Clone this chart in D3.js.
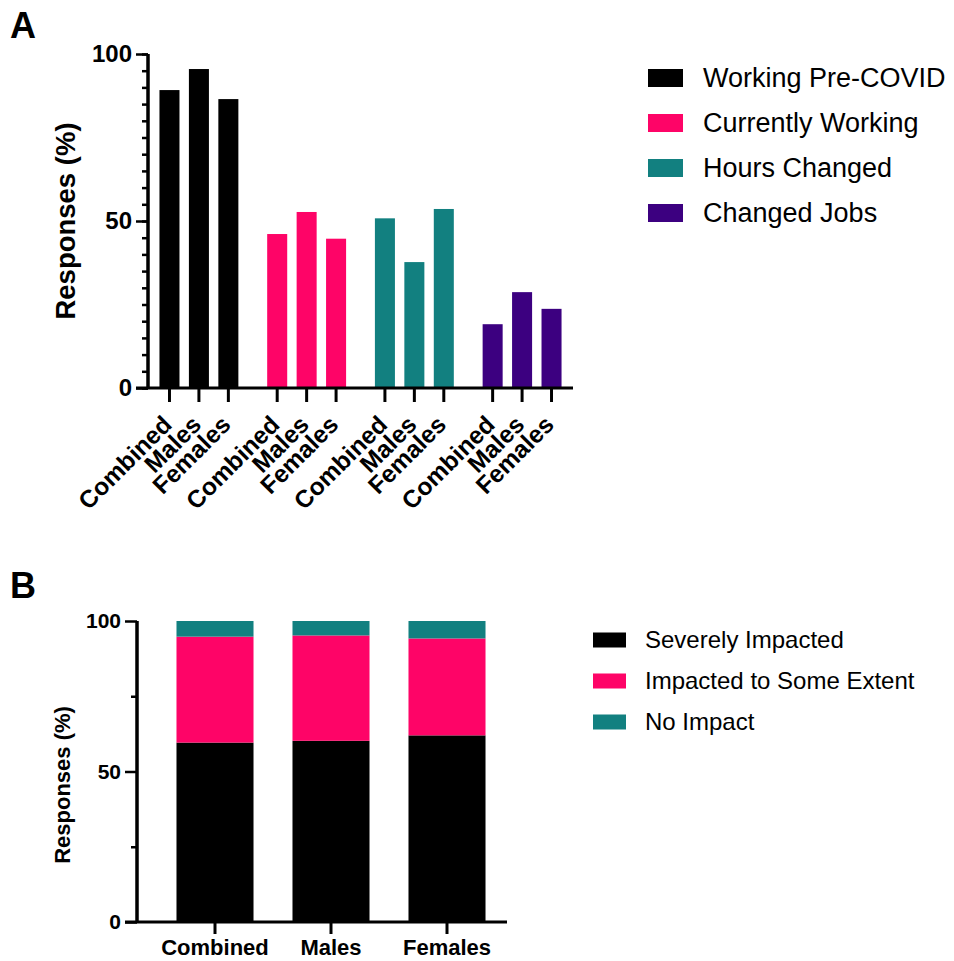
<!DOCTYPE html>
<html><head><meta charset="utf-8">
<script src="https://cdn.jsdelivr.net/npm/d3@7"></script>
<style>body{margin:0;background:#fff;}svg{display:block;font-family:"Liberation Sans",Arial,sans-serif;}</style>
</head><body>
<script>
// ---- Panel A data ----
const groupsA = ["Working Pre-COVID","Currently Working","Hours Changed","Changed Jobs"];
const subgroups = ["Combined","Males","Females"];
const valuesA = [
  [89.2, 95.5, 86.5],
  [46.1, 52.7, 44.7],
  [50.8, 37.7, 53.6],
  [19.1, 28.7, 23.7]
];
const colorsA = ["#000000","#fe0467","#128080","#3c0080"];
const ticksA = [0,50,100];
// ---- Panel B data ----
const categoriesB = ["Combined","Males","Females"];
const seriesB = ["Severely Impacted","Impacted to Some Extent","No Impact"];
const severe = [59.6, 60.2, 62.0];
const someExtent = [35.2, 35.0, 32.2];
const noImpact = [5.2, 4.8, 5.8];
const colorsB = ["#000000","#fe0467","#128080"];
const ticksB = [0,50,100];

const W=954,H=961;
const svg=d3.select("body").append("svg").attr("width",W).attr("height",H);

// Panel letters
svg.append("text").attr("x",10).attr("y",38).attr("font-size",36).attr("font-weight","bold").text("A");
svg.append("text").attr("x",10).attr("y",598).attr("font-size",36).attr("font-weight","bold").text("B");

// ===== Panel A =====
const gA=svg.append("g");
const yA=d3.scaleLinear().domain([0,100]).range([388,54]);
const xA=d3.scaleBand().domain(groupsA).range([154.75,566.25]).paddingInner(0.18).paddingOuter(0);
const xAi=d3.scaleBand().domain(subgroups).range([0,xA.bandwidth()]).paddingInner(0.32).paddingOuter(0.16);
const axisX0=148;

groupsA.forEach((g,gi)=>{
  gA.selectAll(null).data(valuesA[gi]).enter().append("rect")
    .attr("x",(d,i)=>xA(g)+xAi(subgroups[i]))
    .attr("width",xAi.bandwidth())
    .attr("y",d=>yA(d))
    .attr("height",d=>yA(0)-yA(d))
    .attr("fill",colorsA[gi]);
});

// y axis minor ticks
const yAxisA=gA.append("g").attr("transform",`translate(${axisX0},0)`);
yAxisA.call(d3.axisLeft(yA).tickValues(d3.range(0,101,5)).tickSize(6).tickFormat(""));
yAxisA.append("g").call(d3.axisLeft(yA).tickValues(ticksA).tickSize(12).tickPadding(4).tickFormat(d3.format("d")));
yAxisA.selectAll("path.domain").attr("stroke-width",3);
yAxisA.selectAll(".tick line").attr("stroke-width",2.5).attr("stroke","#000");
yAxisA.selectAll(".tick text").attr("font-size",24).attr("font-weight","bold").attr("fill","#000").attr("font-family","Liberation Sans, Arial, sans-serif");
yAxisA.selectAll("path.domain").attr("d",`M0,${yA(0)}V${yA(100)}`);

// x axis line
gA.append("line").attr("x1",axisX0-12).attr("x2",573).attr("y1",yA(0)).attr("y2",yA(0)).attr("stroke","#000").attr("stroke-width",3);
// x ticks and labels
groupsA.forEach((g,gi)=>{
  subgroups.forEach((s,i)=>{
    const cx=xA(g)+xAi(s)+xAi.bandwidth()/2;
    gA.append("line").attr("x1",cx).attr("x2",cx).attr("y1",yA(0)).attr("y2",yA(0)+14).attr("stroke","#000").attr("stroke-width",3);
    gA.append("text").attr("transform",`translate(${cx},${yA(0)+16}) rotate(-45)`)
      .attr("text-anchor","end").attr("dx",-13).attr("dy","0.75em").attr("font-size",24.5).attr("font-weight","bold").text(s);
  });
});
// y title
gA.append("text").attr("transform",`translate(75,221) rotate(-90)`).attr("text-anchor","middle")
  .attr("font-size",27.5).attr("font-weight","bold").text("Responses (%)");

// legend A
const legA=svg.append("g");
groupsA.forEach((g,i)=>{
  const cy=78+i*45;
  legA.append("rect").attr("x",648).attr("y",cy-9).attr("width",35).attr("height",18).attr("fill",colorsA[i]);
  legA.append("text").attr("x",703).attr("y",cy).attr("dy","0.35em").attr("font-size",27).text(g);
});

// ===== Panel B =====
const gB=svg.append("g");
const yB=d3.scaleLinear().domain([0,100]).range([922,621]);
const xB=d3.scaleBand().domain(categoriesB).range([157,505]).paddingInner(0.336).paddingOuter(0.168);
const stackData=categoriesB.map((c,i)=>({cat:c,"Severely Impacted":severe[i],"Impacted to Some Extent":someExtent[i],"No Impact":noImpact[i]}));
const stacked=d3.stack().keys(seriesB)(stackData);
stacked.forEach((layer,li)=>{
  gB.selectAll(null).data(layer).enter().append("rect")
    .attr("x",d=>xB(d.data.cat)).attr("width",xB.bandwidth())
    .attr("y",d=>yB(d[1])).attr("height",d=>yB(d[0])-yB(d[1]))
    .attr("fill",colorsB[li]);
});
const bX0=137;
const yAxisB=gB.append("g").attr("transform",`translate(${bX0},0)`);
yAxisB.call(d3.axisLeft(yB).tickValues([25,75]).tickSize(6).tickFormat(""));
yAxisB.append("g").call(d3.axisLeft(yB).tickValues(ticksB).tickSize(12).tickPadding(4).tickFormat(d3.format("d")));
yAxisB.selectAll("path.domain").attr("stroke-width",3).attr("d",`M0,${yB(0)}V${yB(100)}`);
yAxisB.selectAll(".tick line").attr("stroke-width",2.5).attr("stroke","#000");
yAxisB.selectAll(".tick text").attr("font-size",21).attr("font-weight","bold").attr("fill","#000").attr("font-family","Liberation Sans, Arial, sans-serif");
gB.append("line").attr("x1",bX0-12).attr("x2",507).attr("y1",yB(0)).attr("y2",yB(0)).attr("stroke","#000").attr("stroke-width",3);
categoriesB.forEach(c=>{
  const cx=xB(c)+xB.bandwidth()/2;
  gB.append("line").attr("x1",cx).attr("x2",cx).attr("y1",yB(0)).attr("y2",yB(0)+12).attr("stroke","#000").attr("stroke-width",3);
  gB.append("text").attr("x",cx).attr("y",yB(0)+33).attr("text-anchor","middle").attr("font-size",22).attr("font-weight","bold").text(c);
});
gB.append("text").attr("transform",`translate(70,785) rotate(-90)`).attr("text-anchor","middle")
  .attr("font-size",22).attr("font-weight","bold").text("Responses (%)");

// legend B
const legB=svg.append("g");
seriesB.forEach((s,i)=>{
  const cy=640+i*41;
  legB.append("rect").attr("x",593).attr("y",cy-7.5).attr("width",33).attr("height",15).attr("fill",colorsB[i]);
  legB.append("text").attr("x",645).attr("y",cy).attr("dy","0.35em").attr("font-size",24).text(s);
});
</script>
</body></html>
